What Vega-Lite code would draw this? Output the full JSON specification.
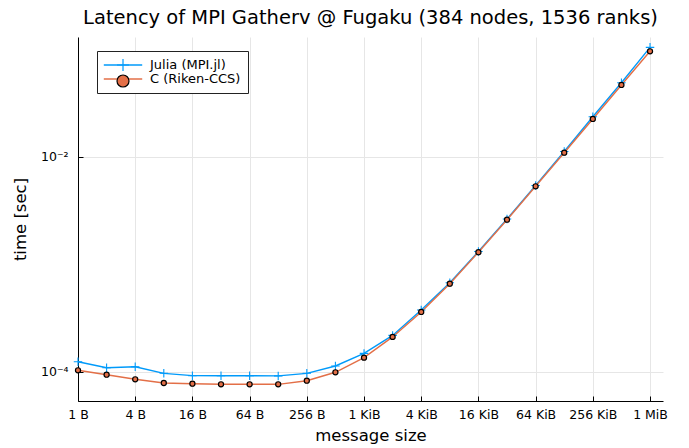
{
  "$schema": "https://vega.github.io/schema/vega-lite/v6.json",
  "width": 585,
  "height": 364,
  "autosize": "none",
  "padding": {"left": 78, "top": 37, "right": 26, "bottom": 47},
  "background": "white",
  "title": {
    "text": "Latency of MPI Gatherv @ Fugaku (384 nodes, 1536 ranks)",
    "anchor": "middle",
    "frame": "group",
    "offset": 9,
    "font": "DejaVu Sans",
    "fontSize": 19.5,
    "fontWeight": "normal",
    "color": "black"
  },
  "config": {"view": {"stroke": null}, "font": "DejaVu Sans"},
  "data": {
    "values": [
      {"series": "Julia (MPI.jl)", "bytes": 1, "time": 0.0001247},
      {"series": "Julia (MPI.jl)", "bytes": 2, "time": 0.0001096},
      {"series": "Julia (MPI.jl)", "bytes": 4, "time": 0.000112},
      {"series": "Julia (MPI.jl)", "bytes": 8, "time": 0.0000972},
      {"series": "Julia (MPI.jl)", "bytes": 16, "time": 0.0000925},
      {"series": "Julia (MPI.jl)", "bytes": 32, "time": 0.0000923},
      {"series": "Julia (MPI.jl)", "bytes": 64, "time": 0.0000922},
      {"series": "Julia (MPI.jl)", "bytes": 128, "time": 0.000092},
      {"series": "Julia (MPI.jl)", "bytes": 256, "time": 0.0000972},
      {"series": "Julia (MPI.jl)", "bytes": 512, "time": 0.0001137},
      {"series": "Julia (MPI.jl)", "bytes": 1024, "time": 0.000149},
      {"series": "Julia (MPI.jl)", "bytes": 2048, "time": 0.000219},
      {"series": "Julia (MPI.jl)", "bytes": 4096, "time": 0.000377},
      {"series": "Julia (MPI.jl)", "bytes": 8192, "time": 0.000677},
      {"series": "Julia (MPI.jl)", "bytes": 16384, "time": 0.00132},
      {"series": "Julia (MPI.jl)", "bytes": 32768, "time": 0.00265},
      {"series": "Julia (MPI.jl)", "bytes": 65536, "time": 0.00543},
      {"series": "Julia (MPI.jl)", "bytes": 131072, "time": 0.01125},
      {"series": "Julia (MPI.jl)", "bytes": 262144, "time": 0.0237},
      {"series": "Julia (MPI.jl)", "bytes": 524288, "time": 0.0491},
      {"series": "Julia (MPI.jl)", "bytes": 1048576, "time": 0.1047},
      {"series": "C (Riken-CCS)", "bytes": 1, "time": 0.0001037},
      {"series": "C (Riken-CCS)", "bytes": 2, "time": 0.0000944},
      {"series": "C (Riken-CCS)", "bytes": 4, "time": 0.0000855},
      {"series": "C (Riken-CCS)", "bytes": 8, "time": 0.000079},
      {"series": "C (Riken-CCS)", "bytes": 16, "time": 0.0000778},
      {"series": "C (Riken-CCS)", "bytes": 32, "time": 0.0000768},
      {"series": "C (Riken-CCS)", "bytes": 64, "time": 0.0000768},
      {"series": "C (Riken-CCS)", "bytes": 128, "time": 0.0000768},
      {"series": "C (Riken-CCS)", "bytes": 256, "time": 0.000083},
      {"series": "C (Riken-CCS)", "bytes": 512, "time": 0.0000994},
      {"series": "C (Riken-CCS)", "bytes": 1024, "time": 0.000136},
      {"series": "C (Riken-CCS)", "bytes": 2048, "time": 0.000212},
      {"series": "C (Riken-CCS)", "bytes": 4096, "time": 0.000362},
      {"series": "C (Riken-CCS)", "bytes": 8192, "time": 0.000663},
      {"series": "C (Riken-CCS)", "bytes": 16384, "time": 0.0013},
      {"series": "C (Riken-CCS)", "bytes": 32768, "time": 0.00261},
      {"series": "C (Riken-CCS)", "bytes": 65536, "time": 0.00534},
      {"series": "C (Riken-CCS)", "bytes": 131072, "time": 0.01097},
      {"series": "C (Riken-CCS)", "bytes": 262144, "time": 0.0226},
      {"series": "C (Riken-CCS)", "bytes": 524288, "time": 0.0468},
      {"series": "C (Riken-CCS)", "bytes": 1048576, "time": 0.0962}
    ]
  },
  "encoding": {
    "x": {
      "field": "bytes",
      "type": "quantitative",
      "scale": {"type": "log", "base": 2, "domain": [1, 1436000], "nice": false},
      "axis": {
        "values": [1, 4, 16, 64, 256, 1024, 4096, 16384, 65536, 262144, 1048576],
        "labelExpr": "datum.value < 1024 ? datum.value + ' B' : (datum.value < 1048576 ? (datum.value / 1024) + ' KiB' : (datum.value / 1048576) + ' MiB')",
        "title": "message size",
        "titleFont": "DejaVu Sans",
        "titleFontSize": 16.5,
        "titleFontWeight": "normal",
        "titleColor": "black",
        "titlePadding": 7,
        "labelFont": "DejaVu Sans",
        "labelFontSize": 12.5,
        "labelColor": "black",
        "labelFlush": false,
        "labelOverlap": false,
        "labelPadding": 12,
        "domainColor": "black",
        "domainWidth": 1,
        "tickColor": "black",
        "tickSize": -5,
        "tickWidth": 1,
        "grid": true,
        "gridColor": "#e6e6e6",
        "gridWidth": 1
      }
    },
    "y": {
      "field": "time",
      "type": "quantitative",
      "scale": {"type": "log", "domain": [0.00005373, 0.1307], "nice": false},
      "axis": {
        "values": [0.0001, 0.01],
        "labelExpr": "datum.value < 0.001 ? '10⁻⁴' : '10⁻²'",
        "title": "time [sec]",
        "titleFont": "DejaVu Sans",
        "titleFontSize": 16.5,
        "titleFontWeight": "normal",
        "titleColor": "black",
        "titlePadding": 12,
        "labelFont": "DejaVu Sans",
        "labelFontSize": 12.5,
        "labelColor": "black",
        "labelFlush": false,
        "labelOverlap": false,
        "labelPadding": 15,
        "domainColor": "black",
        "domainWidth": 1,
        "tickColor": "black",
        "tickSize": -5,
        "tickWidth": 1,
        "grid": true,
        "gridColor": "#e6e6e6",
        "gridWidth": 1
      }
    }
  },
  "layer": [
    {
      "mark": {"type": "line", "strokeWidth": 1.4},
      "encoding": {
        "color": {
          "field": "series",
          "type": "nominal",
          "scale": {"domain": ["Julia (MPI.jl)", "C (Riken-CCS)"], "range": ["#009AFA", "#E36F47"]},
          "legend": {
            "title": null,
            "orient": "none",
            "legendX": 19,
            "legendY": 14,
            "padding": 7,
            "fillColor": "white",
            "strokeColor": "#222222",
            "cornerRadius": 0,
            "symbolType": "M-3.2,0H3.2",
            "symbolSize": 144,
            "symbolStrokeWidth": 1.4,
            "symbolOffset": 12,
            "labelOffset": 20,
            "labelFont": "DejaVu Sans",
            "labelFontSize": 13,
            "labelColor": "black",
            "rowPadding": -2
          }
        }
      }
    },
    {
      "mark": {"type": "point", "opacity": 1},
      "encoding": {
        "shape": {
          "field": "series",
          "type": "nominal",
          "sort": "descending",
          "scale": {"range": ["M-1,0H1M0,-1V1", "circle"]},
          "legend": {
            "title": null,
            "orient": "top-left",
            "offset": 14,
            "padding": 7,
            "strokeColor": null,
            "fillColor": null,
            "symbolSize": 144,
            "symbolStrokeWidth": 1.2,
            "symbolOffset": 17,
            "symbolOpacity": 1,
            "labelOffset": 20,
            "labelExpr": "' '",
            "labelFont": "DejaVu Sans",
            "labelFontSize": 13,
            "rowPadding": -2
          }
        },
        "fill": {
          "field": "series",
          "type": "nominal",
          "sort": "descending",
          "scale": {"range": ["transparent", "#E36F47"]},
          "legend": {
            "title": null,
            "orient": "top-left",
            "offset": 14,
            "padding": 7,
            "strokeColor": null,
            "fillColor": null,
            "symbolSize": 144,
            "symbolStrokeWidth": 1.2,
            "symbolOffset": 17,
            "symbolOpacity": 1,
            "labelOffset": 20,
            "labelExpr": "' '",
            "labelFont": "DejaVu Sans",
            "labelFontSize": 13,
            "rowPadding": -2
          }
        },
        "stroke": {
          "field": "series",
          "type": "nominal",
          "sort": "descending",
          "scale": {"range": ["#009AFA", "#000000"]},
          "legend": {
            "title": null,
            "orient": "top-left",
            "offset": 14,
            "padding": 7,
            "strokeColor": null,
            "fillColor": null,
            "symbolSize": 144,
            "symbolStrokeWidth": 1.2,
            "symbolOffset": 17,
            "symbolOpacity": 1,
            "labelOffset": 20,
            "labelExpr": "' '",
            "labelFont": "DejaVu Sans",
            "labelFontSize": 13,
            "rowPadding": -2
          }
        },
        "size": {"condition": {"test": "datum.series === 'C (Riken-CCS)'", "value": 26}, "value": 72},
        "strokeWidth": {"condition": {"test": "datum.series === 'C (Riken-CCS)'", "value": 1.2}, "value": 1.1}
      }
    }
  ]
}
